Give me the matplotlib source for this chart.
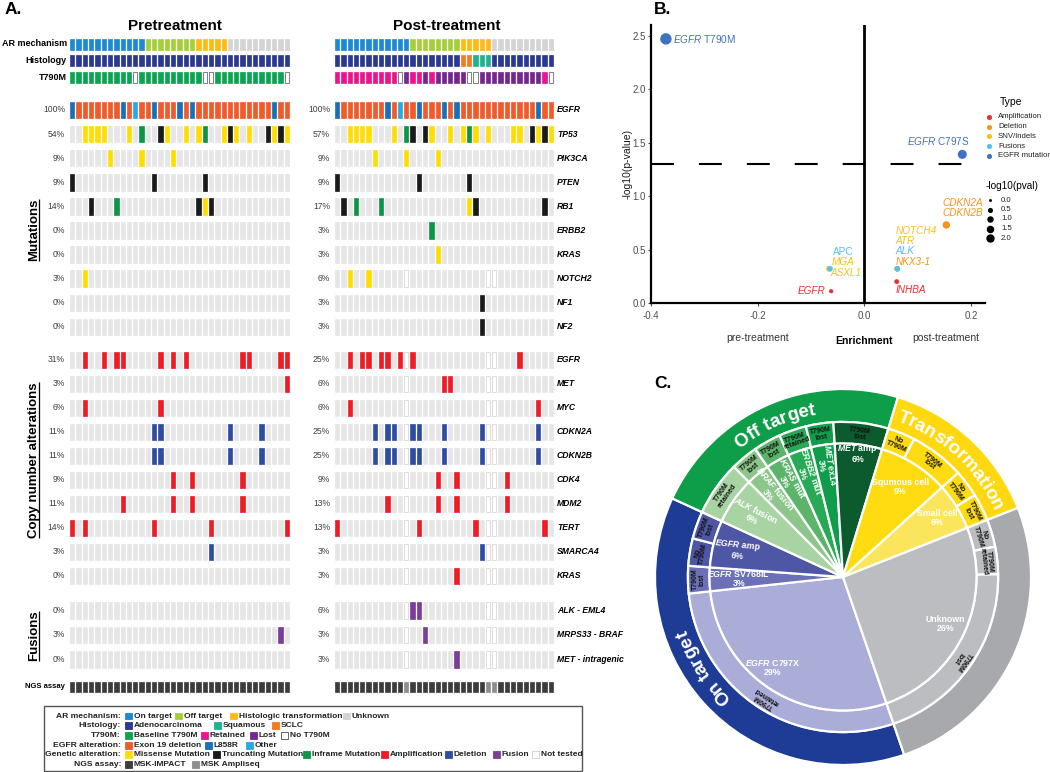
import numpy as np
import matplotlib
matplotlib.use('Agg')
import matplotlib.pyplot as plt
from matplotlib.font_manager import FontProperties
from matplotlib.patches import Rectangle

plt.rcParams['font.family'] = ['Liberation Sans', 'DejaVu Sans']
plt.rcParams['axes.unicode_minus'] = False
plt.rcParams['mathtext.fontset'] = 'custom'
plt.rcParams['mathtext.rm'] = 'Liberation Sans'
plt.rcParams['mathtext.it'] = 'Liberation Sans:italic'
plt.rcParams['mathtext.bf'] = 'Liberation Sans:bold'
plt.rcParams['mathtext.bfit'] = 'Liberation Sans:italic:bold'

# ---------------- panel A data (35 patients, same order pre / post) ----------------
n_pat = 35
ar_mech = ['on'] * 12 + ['off'] * 8 + ['trans'] * 5 + ['unk'] * 10
hist_pre = ['adeno'] * 35
hist_post = ['adeno'] * 20 + ['sclc'] * 2 + ['squam'] * 3 + ['adeno'] * 10
t790m_pre = ['base'] * 10 + ['none'] + ['base'] * 10 + ['none', 'none'] + ['base'] * 11 + ['none']
t790m_post = (['ret'] * 10 + ['none', 'lost', 'ret', 'ret', 'lost', 'ret'] + ['lost'] * 5
              + ['none', 'none'] + ['lost'] * 10 + ['ret', 'none'])
egfr_l858r = [0, 8, 13, 17, 19, 32]
egfr_other = [10]

mut_genes = ['EGFR', 'TP53', 'PIK3CA', 'PTEN', 'RB1', 'ERBB2', 'KRAS', 'NOTCH2', 'NF1', 'NF2']
mut_pre = {
    'TP53': {'M': [2, 3, 4, 5, 9, 15, 18, 20, 24, 26, 28, 32, 34], 'I': [11, 21], 'T': [14, 25, 31, 33]},
    'PIK3CA': {'M': [6, 11, 16]},
    'PTEN': {'T': [0, 13, 21]},
    'RB1': {'T': [3, 20, 22], 'I': [7], 'M': [21]},
    'NOTCH2': {'M': [2]},
}
mut_post = {
    'TP53': {'M': [2, 3, 4, 5, 9, 15, 18, 20, 22, 24, 28, 29, 32, 34], 'I': [11, 21], 'T': [12, 14, 31, 33]},
    'PIK3CA': {'M': [6, 11, 16]},
    'PTEN': {'T': [0, 13, 21]},
    'RB1': {'T': [1, 22, 33], 'I': [3, 7], 'M': [21]},
    'ERBB2': {'I': [15]},
    'KRAS': {'M': [16]},
    'NOTCH2': {'M': [2, 5]},
    'NF1': {'T': [23]},
    'NF2': {'T': [23]},
}
cna_genes = ['EGFR', 'MET', 'MYC', 'CDKN2A', 'CDKN2B', 'CDK4', 'MDM2', 'TERT', 'SMARCA4', 'KRAS']
cna_pre = {
    'EGFR': {'A': [2, 5, 7, 8, 14, 16, 18, 27, 28, 33, 34]},
    'MET': {'A': [34]},
    'MYC': {'A': [2, 14]},
    'CDKN2A': {'D': [13, 14, 25, 30]},
    'CDKN2B': {'D': [13, 14, 25, 30]},
    'CDK4': {'A': [16, 19, 27]},
    'MDM2': {'A': [8, 16, 19, 27]},
    'TERT': {'A': [0, 2, 13, 22, 34]},
    'SMARCA4': {'D': [22]},
}
cna_post = {
    'EGFR': {'A': [2, 4, 5, 7, 8, 10, 12, 29]},
    'MET': {'A': [17, 18]},
    'MYC': {'A': [2, 32]},
    'CDKN2A': {'D': [6, 8, 9, 12, 13, 17, 23, 32]},
    'CDKN2B': {'D': [6, 8, 9, 12, 13, 17, 23, 32]},
    'CDK4': {'A': [16, 19, 27]},
    'MDM2': {'A': [8, 16, 19, 27]},
    'TERT': {'A': [0, 13, 22, 33]},
    'SMARCA4': {'D': [23]},
    'KRAS': {'A': [19]},
}
fusion_genes = ['ALK - EML4', 'MRPS33 - BRAF', 'MET - intragenic']
fus_pre = {'MRPS33 - BRAF': {'F': [33]}}
fus_post = {'ALK - EML4': {'F': [12, 13]}, 'MRPS33 - BRAF': {'F': [14]}, 'MET - intragenic': {'F': [19]}}
ampliseq_post = [11, 24, 25]          # samples sequenced with MSK Ampliseq
ampliseq_missing_mut = ['NOTCH2']     # mutation genes not covered by Ampliseq

# ---------------- panel B data ----------------
b_gene = ['EGFR T790M', 'EGFR C797S', 'CDKN2A', 'CDKN2B', 'NOTCH4', 'ATR', 'NKX3-1', 'ALK',
          'INHBA', 'MGA', 'ASXL1', 'APC', 'EGFR']
b_enrich = [-0.372, 0.184, 0.154, 0.154, 0.062, 0.062, 0.062, 0.062, 0.061, -0.066, -0.066, -0.064, -0.062]
b_logp = [2.47, 1.39, 0.73, 0.73, 0.32, 0.32, 0.32, 0.32, 0.20, 0.32, 0.32, 0.32, 0.11]
b_type = ['EGFR mutation', 'EGFR mutation', 'Deletion', 'Deletion', 'SNV/Indels', 'SNV/Indels',
          'Deletion', 'Fusions', 'Amplification', 'SNV/Indels', 'SNV/Indels', 'Fusions', 'Amplification']
b_types = ['Amplification', 'Deletion', 'SNV/Indels', 'Fusions', 'EGFR mutation']
b_size_keys = [0.0, 0.5, 1.0, 1.5, 2.0]

# ---------------- panel C data ----------------
outer_names = ['On target', 'Off target', 'Transformation', '']
outer_counts = [13, 8, 5, 9]
inner_names = ['$\\mathbfit{EGFR}$ C797X', '$\\mathbfit{EGFR}$ SV768IL', '$\\mathbfit{EGFR}$ amp',
               '$\\mathbfit{ALK}$ fusion', '$\\mathbfit{BRAF}$ fusion', '$\\mathbfit{KRAS}$ mut',
               '$\\mathbfit{ERBB2}$ mut', '$\\mathbfit{MET}$ ex14', '$\\mathbfit{MET}$ amp',
               'Squmous cell', 'Small cell', 'Unknown']
inner_counts = [10, 1, 2, 2, 1, 1, 1, 1, 2, 3, 2, 9]
inner_pct = [29, 3, 6, 6, 3, 3, 3, 3, 6, 9, 6, 26]
mid_status = ['retained', 'lost', 'none', 'lost', 'retained', 'lost', 'lost', 'retained', 'lost', 'lost',
              'none', 'lost', 'none', 'lost', 'none', 'retained', 'lost']
mid_counts = [10, 1, 1, 1, 2, 1, 1, 1, 1, 2, 1, 2, 1, 1, 1, 1, 7]
mid_parent = [0, 1, 2, 2, 3, 4, 5, 6, 7, 8, 9, 9, 10, 10, 11, 11, 11]

# ---------------- styles ----------------
C = {'on': '#1C8AD2', 'off': '#A6CE39', 'trans': '#FDBB13', 'unk': '#D4D4D4',
     'adeno': '#2B3990', 'squam': '#1DB391', 'sclc': '#F47B20',
     'base': '#0AA550', 'ret': '#EC148C', 'lost': '#76278F', 'none': 'white', 'nt': 'white',
     'ex19': '#F15A29', 'l858r': '#1A70B8', 'other': '#29ABE2',
     'M': '#FFDD00', 'T': '#1A1A1A', 'I': '#0B9647', 'A': '#EE1C25', 'D': '#2F4DA0', 'F': '#7D3C98',
     'impact': '#3C3C3C', 'ampliseq': '#8E8E8E', 'bg': '#E6E6E6'}
EDGE = {'none': '#4D4D4D', 'nt': '#CFCFCF'}
b_colors = {'Amplification': '#E8312F', 'Deletion': '#F7941D', 'SNV/Indels': '#FBC015',
            'Fusions': '#4EC3F0', 'EGFR mutation': '#3F72C0'}
outer_colors = ['#1E3C96', '#0E9E49', '#FFD80F', '#A7A9AC']
inner_colors = ['#ABADD9', '#6C70B6', '#4E56A6', '#A8D4A3', '#8CC68B', '#5CB46B', '#27A955',
                '#109D4B', '#0B5B2E', '#FFDB12', '#FAE55C', '#BBBDC0']

W, H = 1050, 772
fig = plt.figure(figsize=(W / 100, H / 100), dpi=100)
renderer = fig.canvas.get_renderer()


def px_axes(x0, y0, x1, y1):
    return fig.add_axes([x0 / W, 1 - y1 / H, (x1 - x0) / W, (y1 - y0) / H])


base = px_axes(0, 0, W, H)
base.set_xlim(0, W)
base.set_ylim(H, 0)
base.axis('off')

# ---------------- panel A ----------------
header_y = [44, 60.5, 77]
header_h = 11
mut_y = [110 + 24.1 * i for i in range(len(mut_genes))]
cna_y = [360 + 24 * i for i in range(len(cna_genes))]
fus_y = [610.5 + 24.4 * i for i in range(len(fusion_genes))]
gene_h = 16.5
ngs_y, ngs_h = 687, 10


def alt_row(alts, untested):
    colors = [C['bg']] * n_pat
    edges = [C['bg']] * n_pat
    for c in untested:
        colors[c] = C['nt']
        edges[c] = EDGE['nt']
    n = 0
    for kind, idx in alts.items():
        for c in idx:
            colors[c] = C[kind]
            edges[c] = C[kind]
            n += 1
    pct = int(100 * n / (n_pat - len(untested)) + 0.5)
    return colors, edges, pct


def oncoprint(ax, hist, t790m, muts, cnas, fus, untested, pct_x):
    ax.set_xlim(-0.5, n_pat - 0.5)
    ax.set_ylim(700, 30)
    ax.axis('off')
    x = np.arange(n_pat)

    def row(y, h, colors, edges):
        ax.bar(x, h, width=0.68, bottom=y - h / 2, color=colors, edgecolor=edges, linewidth=0.5)

    for y, cats in zip(header_y, [ar_mech, hist, t790m]):
        row(y, header_h, [C[c] for c in cats], [EDGE.get(c, C[c]) for c in cats])

    egfr = ['l858r' if i in egfr_l858r else 'other' if i in egfr_other else 'ex19' for i in range(n_pat)]
    rows = [(mut_y[0], [C[c] for c in egfr], [C[c] for c in egfr], 100)]
    for g, y in zip(mut_genes[1:], mut_y[1:]):
        skip = untested if g in ampliseq_missing_mut else []
        rows.append((y,) + alt_row(muts.get(g, {}), skip))
    for g, y in zip(cna_genes, cna_y):
        rows.append((y,) + alt_row(cnas.get(g, {}), untested))
    for g, y in zip(fusion_genes, fus_y):
        rows.append((y,) + alt_row(fus.get(g, {}), untested))
    for y, colors, edges, pct in rows:
        row(y, gene_h, colors, edges)
        base.text(pct_x, y, '%d%%' % pct, ha='right', va='center', fontsize=6.2, color='#404040')

    ngs = ['ampliseq' if i in untested else 'impact' for i in range(n_pat)]
    row(ngs_y, ngs_h, [C[c] for c in ngs], [C[c] for c in ngs])


ax_pre = px_axes(69, 30, 290, 700)
oncoprint(ax_pre, hist_pre, t790m_pre, mut_pre, cna_pre, fus_pre, [], 65)
ax_post = px_axes(334, 30, 554, 700)
oncoprint(ax_post, hist_post, t790m_post, mut_post, cna_post, fus_post, ampliseq_post, 330)

base.text(13, 10, 'A.', fontsize=12.5, weight='bold', ha='center', va='center')
base.text(175, 26, 'Pretreatment', fontsize=11, weight='bold', ha='center', va='center')
base.text(447, 26, 'Post-treatment', fontsize=11, weight='bold', ha='center', va='center')
for lab, y in zip(['AR mechanism', 'Histology', 'T790M'], header_y):
    base.text(67, y, lab, ha='right', va='center', fontsize=6.5, weight='bold')
base.text(65, ngs_y, 'NGS assay', ha='right', va='center', fontsize=5.5, weight='bold')
for g, y in zip(mut_genes + cna_genes + fusion_genes, mut_y + cna_y + fus_y):
    base.text(557, y, g, ha='left', va='center', fontsize=6.2, weight='bold', style='italic')

for lab, yc in zip(['Mutations', 'Copy number alterations', 'Fusions'], [230, 460, 636]):
    t = base.text(37, yc, lab, rotation=90, rotation_mode='anchor', ha='center', va='baseline',
                  fontsize=9.5, weight='bold')
    bb = t.get_window_extent(renderer)
    inv = base.transData.inverted()
    (_, ya), (_, yb) = inv.transform([[bb.x0, bb.y0], [bb.x1, bb.y1]])
    base.plot([38.6, 38.6], [ya, yb], color='black', lw=0.9, solid_capstyle='butt')

# legend box
base.add_patch(Rectangle((44, 706), 538, 65, facecolor='white', edgecolor='#555555', lw=1))
leg_rows = ['AR mechanism:', 'Histology:', 'T790M:', 'EGFR alteration:', 'Genetic alteration:', 'NGS assay:']
leg_items = [
    [('On target', 'on'), ('Off target', 'off'), ('Histologic transformation', 'trans'), ('Unknown', 'unk')],
    [('Adenocarcinoma', 'adeno'), ('Squamous', 'squam'), ('SCLC', 'sclc')],
    [('Baseline T790M', 'base'), ('Retained', 'ret'), ('Lost', 'lost'), ('No T790M', 'none')],
    [('Exon 19 deletion', 'ex19'), ('L858R', 'l858r'), ('Other', 'other')],
    [('Missense Mutation', 'M'), ('Truncating Mutation', 'T'), ('Inframe Mutation', 'I'),
     ('Amplification', 'A'), ('Deletion', 'D'), ('Fusion', 'F'), ('Not tested', 'nt')],
    [('MSK-IMPACT', 'impact'), ('MSK Ampliseq', 'ampliseq')],
]
leg_x = [[125, 175, 230, 343], [125, 214, 272], [125, 201, 250, 281], [125, 205, 246],
         [125, 213, 303, 381, 445, 493, 532], [125, 192]]
for i, (lab, items, xs) in enumerate(zip(leg_rows, leg_items, leg_x)):
    y = 716 + 9.7 * i
    base.text(121, y, lab, ha='right', va='center', fontsize=6.1, weight='bold', color='#222222')
    for (name, key), x in zip(items, xs):
        base.add_patch(Rectangle((x, y - 3.4), 6.6, 6.8, facecolor=C[key],
                                 edgecolor=EDGE.get(key, C[key]), lw=0.6))
        base.text(x + 8.8, y, name, ha='left', va='center', fontsize=6, weight='bold', color='#222222')

# ---------------- panel B ----------------
axb = px_axes(651, 25, 985, 303)
axb.set_xlim(-0.4, 0.2266)
axb.set_ylim(0, 2.6)
for s in ['top', 'right']:
    axb.spines[s].set_visible(False)
for s in ['left', 'bottom']:
    axb.spines[s].set_linewidth(1.6)
axb.axvline(0, color='black', lw=2)
axb.axhline(-np.log10(0.05), color='black', lw=1.5, linestyle=(0, (11, 12)))
axb.set_xticks([-0.4, -0.2, 0.0, 0.2])
axb.set_yticks([0.0, 0.5, 1.0, 1.5, 2.0, 2.5])
axb.xaxis.set_major_formatter(plt.FormatStrFormatter('%.1f'))
axb.yaxis.set_major_formatter(plt.FormatStrFormatter('%.1f'))
axb.tick_params(labelsize=7, colors='#4D4D4D', length=2, pad=1.5)
axb.tick_params(axis='x', pad=4)
axb.set_ylabel('-log10(p-value)', fontsize=7.5, color='#1A1A1A')
axb.yaxis.set_label_coords(-0.055, 0.5)

b_size = [2.07 + 20.2 * p for p in b_logp]
axb.scatter(b_enrich, b_logp, s=b_size, c=[b_colors[t] for t in b_type], zorder=3, clip_on=False)
b_offsets = {'EGFR T790M': (7, 0, 'left'), 'EGFR C797S': (-24, 13, 'center'),
             'CDKN2A': (16, 22, 'center'), 'CDKN2B': (16, 12, 'center'),
             'NOTCH4': (-2, 38, 'left'), 'ATR': (-2, 28, 'left'), 'ALK': (-2, 18, 'left'),
             'NKX3-1': (-2, 7, 'left'), 'INHBA': (-1, -8, 'left'), 'APC': (3, 17, 'left'),
             'MGA': (3, 7, 'left'), 'ASXL1': (1, -4, 'left'), 'EGFR': (-6, 0, 'right')}
for g, x, y, t in zip(b_gene, b_enrich, b_logp, b_type):
    dx, dy, ha = b_offsets[g]
    if g.startswith('EGFR '):
        label, style = '$\\mathit{EGFR}$ ' + g.split(' ')[1], 'normal'
    else:
        label, style = g, ('normal' if g == 'APC' else 'italic')
    axb.annotate(label, (x, y), xytext=(dx, dy), textcoords='offset pixels', ha=ha, va='center',
                 fontsize=7.2, color=b_colors[t], style=style)

base.text(663, 9, 'B.', fontsize=12.5, weight='bold', ha='center', va='center')
base.text(758, 338, 'pre-treatment', fontsize=7.5, ha='center', va='center', color='#333333')
base.text(864, 341, 'Enrichment', fontsize=7.5, weight='bold', ha='center', va='center')
base.text(946, 338, 'post-treatment', fontsize=7.5, ha='center', va='center', color='#333333')

base.text(1011, 102, 'Type', fontsize=7.5, ha='center', va='center')
for i, t in enumerate(b_types):
    y = 117 + 9.7 * i
    base.scatter([989], [y], s=7, color=b_colors[t])
    base.text(998, y, t, fontsize=5.6, ha='left', va='center', color='#222222')
base.text(1012, 186, '-log10(pval)', fontsize=7.2, ha='center', va='center')
for i, p in enumerate(b_size_keys):
    y = 200 + 9.5 * i
    base.scatter([990], [y], s=1.2 + 12 * p, color='black')
    base.text(1001, y, '%.1f' % p, fontsize=5.6, ha='left', va='center', color='#222222')

# ---------------- panel C ----------------
R = 188.0
cx, cy = 843, 577
axc = px_axes(cx - 200, cy - 200, cx + 200, cy + 200)
r_mid, r_in = 0.825, 0.71
start = 289
wp = dict(edgecolor='white', linewidth=1.6)
axc.pie(outer_counts, radius=1.0, startangle=start, counterclock=False, colors=outer_colors,
        wedgeprops=dict(width=1.0 - r_mid, **wp))
mid_colors = [inner_colors[p] if p != 10 else inner_colors[9] for p in mid_parent]
axc.pie(mid_counts, radius=r_mid, startangle=start, counterclock=False, colors=mid_colors,
        wedgeprops=dict(width=r_mid - r_in, **wp))
axc.pie(inner_counts, radius=r_in, startangle=start, counterclock=False, colors=inner_colors,
        wedgeprops=wp)
lim = 200 / R
axc.set_xlim(-lim, lim)
axc.set_ylim(-lim, lim)
axc.axis('off')

total = float(sum(inner_counts))


def centers(counts):
    cum = np.cumsum([0] + list(counts))
    return [start - (cum[i] + counts[i] / 2) / total * 360 for i in range(len(counts))]


inner_radial = [False, False, False, True, True, True, True, True, False, False, False, False]
inner_r = [0.61, 0.555, 0.58, 0.58, 0.59, 0.59, 0.59, 0.60, 0.66, 0.57, 0.59, 0.60]
inner_dth = [-5.5, 0, 0, 0, 0, 0, 0, 0, 0, 0, 0, 0]
inner_drot = [0, 0, -6, 8, 0, 0, 0, 0, 0, 0, 0, 0]
for name, pct, th, rad, rr, dth, drot in zip(inner_names, inner_pct, centers(inner_counts),
                                             inner_radial, inner_r, inner_dth, inner_drot):
    th = th + dth
    rot = (th - 180 if rad else 0) + drot
    axc.text(rr * np.cos(np.radians(th)), rr * np.sin(np.radians(th)), '%s\n%d%%' % (name, pct),
             ha='center', va='center', rotation=rot, rotation_mode='anchor', fontsize=6.3,
             weight='bold', color='white', linespacing=1.0)

mid_text = {'retained': 'T790M\nretained', 'lost': 'T790M\nlost', 'none': 'No\nT790M'}
r_lab = (r_mid + r_in) / 2
for st, th in zip(mid_status, centers(mid_counts)):
    axc.text(r_lab * np.cos(np.radians(th)), r_lab * np.sin(np.radians(th)), mid_text[st],
             ha='center', va='center', rotation=th - 90, rotation_mode='anchor', fontsize=5,
             weight='bold', color='#111111', linespacing=0.85)

# curved outer labels
fp = FontProperties(family='Liberation Sans', weight='bold', size=13.5)


def text_w(s):
    return renderer.get_text_width_height_descent(s, fp, ismath=False)[0]


outer_centers = centers(outer_counts)
outer_centers[0] = 213
r_base = 0.875
r_px = r_base * R
for name, thc in zip(outer_names, outer_centers):
    if not name:
        continue
    tw = text_w(name)
    for k, ch in enumerate(name):
        if ch == ' ':
            continue
        c = text_w(name[:k + 1]) - text_w(ch) / 2
        th = thc - np.degrees((c - tw / 2) / r_px)
        axc.text(r_base * np.cos(np.radians(th)), r_base * np.sin(np.radians(th)), ch,
                 rotation=th - 90, rotation_mode='anchor', ha='center', va='baseline',
                 fontproperties=fp, color='white')

base.text(663, 383, 'C.', fontsize=12.5, weight='bold', ha='center', va='center')

fig.savefig('out.png', dpi=100)
